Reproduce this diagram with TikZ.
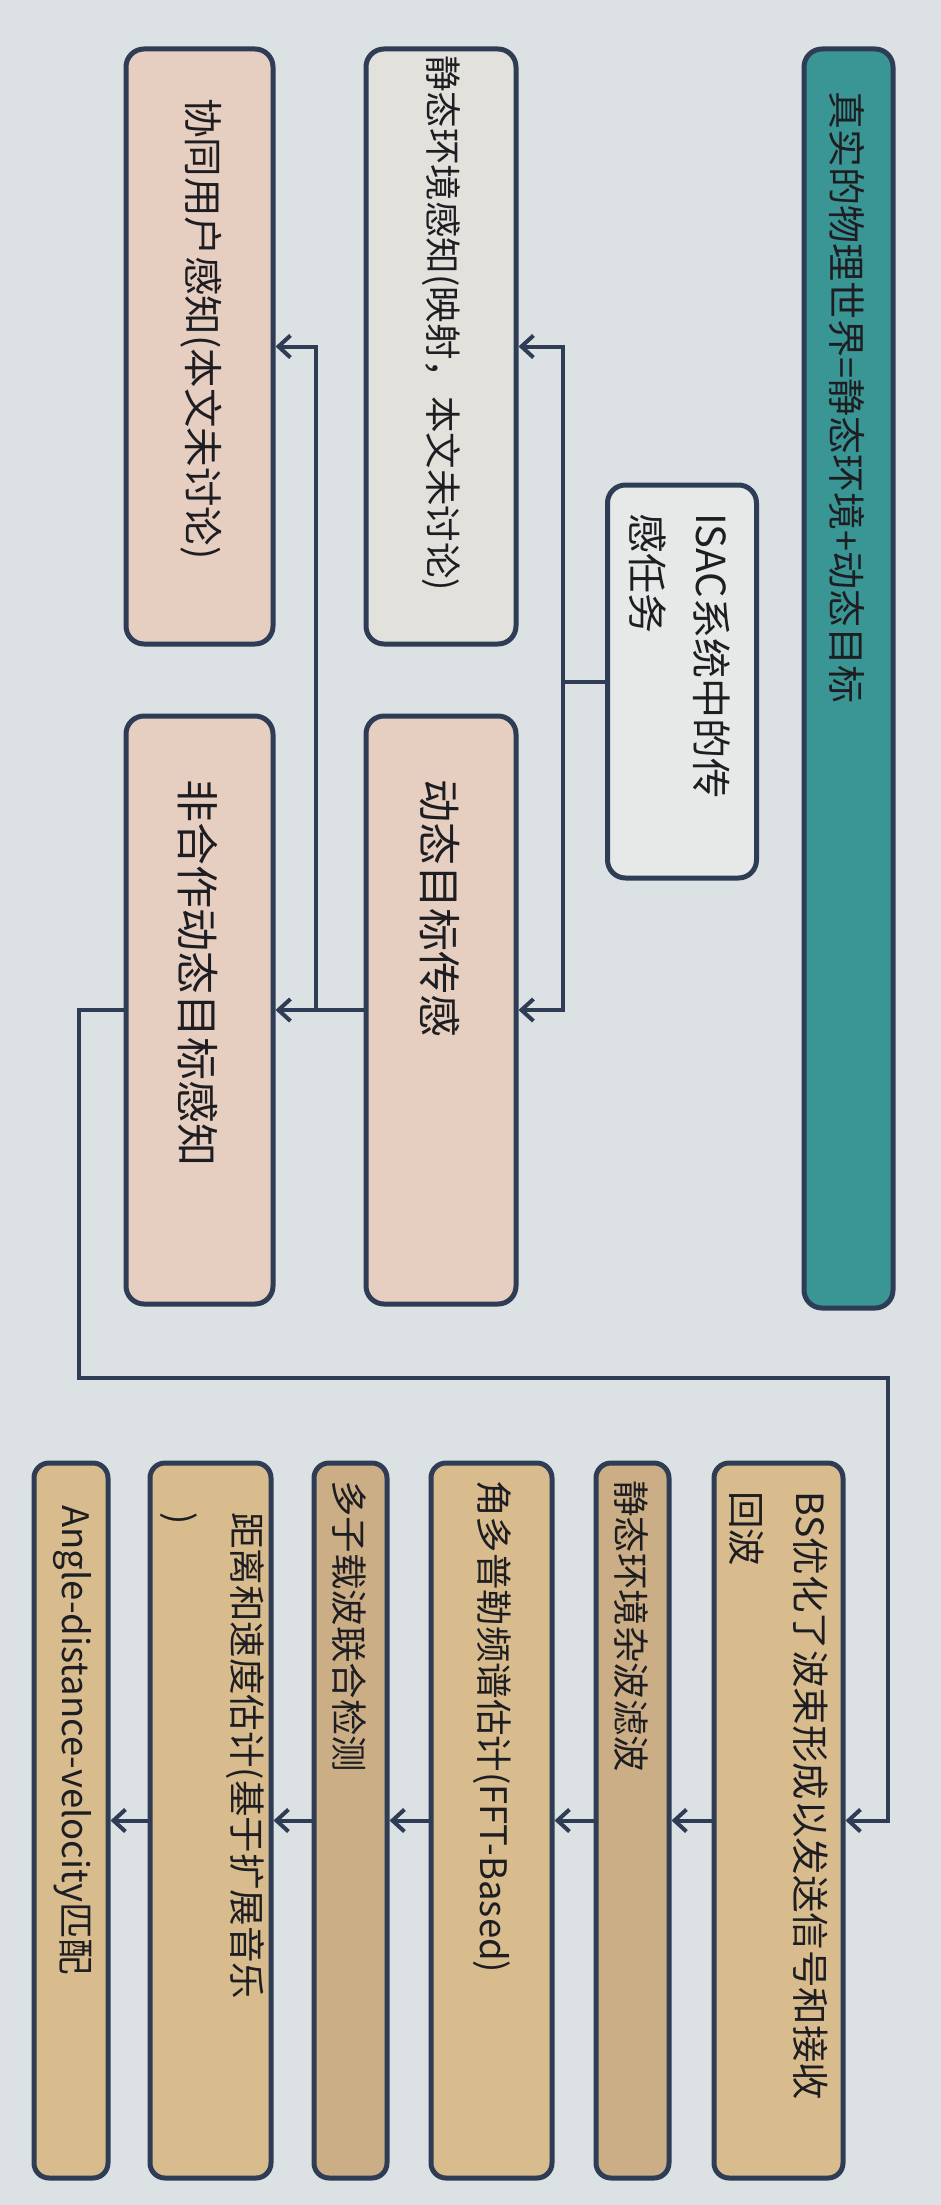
\documentclass[tikz,border=0pt]{standalone}
\usepackage{fontspec}
\setmainfont{Noto Sans CJK SC}
\usetikzlibrary{arrows.meta}
\definecolor{bg}{HTML}{DCE1E3}
\definecolor{border}{HTML}{2E3D55}
\definecolor{teal}{HTML}{3A9595}
\definecolor{isacfill}{HTML}{E7E9E9}
\definecolor{staticfill}{HTML}{E2E1DC}
\definecolor{pinkfill}{HTML}{E6CEC1}
\definecolor{tanfill}{HTML}{D8BC8E}
\definecolor{tandark}{HTML}{CBAE85}
\definecolor{txt}{HTML}{1E1E22}
\tikzset{
  box/.style={draw=border, line width=5pt, rounded corners=18pt, inner sep=0pt},
  lab/.style={rotate=-90, anchor=west, inner sep=0pt, align=left, text=txt},
  fs/.style={font=\fontsize{36.5}{66}\selectfont},
  fb/.style={font=\fontsize{43}{70}\selectfont},
  conn/.style={draw=border, line width=4pt},
  arr/.style={conn, -{Straight Barb[length=12pt,width=22pt,line width=4pt]}}
}
\begin{document}
\begin{tikzpicture}[x=1pt,y=-1pt]
\fill[bg] (0,0) rectangle (941,2205);
\useasboundingbox (0,0) rectangle (941,2205);

% top boxes
\node[box, fill=teal, minimum width=89pt, minimum height=1259pt] (teal) at (848.5,678.5) {};
\node[box, fill=isacfill, minimum width=149pt, minimum height=393pt] (isac) at (682,681.5) {};
\node[box, fill=staticfill, minimum width=150pt, minimum height=595pt] (static) at (441,346.5) {};
\node[box, fill=pinkfill, minimum width=147pt, minimum height=595pt] (coop) at (199.5,346.5) {};
\node[box, fill=pinkfill, minimum width=150pt, minimum height=588pt] (dyn) at (441,1010) {};
\node[box, fill=pinkfill, minimum width=147pt, minimum height=588pt] (noncoop) at (199.5,1010) {};

% bottom boxes
\node[box, fill=tanfill, rounded corners=15pt, minimum width=129pt, minimum height=715pt] (bs) at (778.5,1820.5) {};
\node[box, fill=tandark, rounded corners=15pt, minimum width=73pt, minimum height=715pt] (clutter) at (632.5,1820.5) {};
\node[box, fill=tanfill, rounded corners=15pt, minimum width=121pt, minimum height=715pt] (doppler) at (491.5,1820.5) {};
\node[box, fill=tandark, rounded corners=15pt, minimum width=73pt, minimum height=715pt] (multi) at (350.5,1820.5) {};
\node[box, fill=tanfill, rounded corners=15pt, minimum width=121pt, minimum height=715pt] (range) at (210.5,1820.5) {};
\node[box, fill=tanfill, rounded corners=15pt, minimum width=74pt, minimum height=715pt] (match) at (71,1820.5) {};

% labels
\node[lab, font=\fontsize{38}{66}\selectfont] (tealtxt) at (847,91) {真实的物理世界=静态环境+动态目标};
\node[lab, font=\fontsize{40}{64}\selectfont] (isactxt) at (680,513) {ISAC系统中的传\\感任务};
\node[lab, fs] (statictxt) at (441,55) {静态环境感知(映射，本文未讨论)};
\node[lab, font=\fontsize{39.5}{66}\selectfont] (cooptxt) at (201,98) {协同用户感知(本文未讨论)};
\node[lab, fb] (dyntxt) at (440,779) {动态目标传感};
\node[lab, fb] (noncooptxt) at (198,779) {非合作动态目标感知};
\node[lab, font=\fontsize{37.5}{64}\selectfont] (bstxt) at (779,1491) {BS优化了波束形成以发送信号和接收\\回波};
\node[lab, fs] (cluttertxt) at (631,1480) {静态环境杂波滤波};
\node[lab, fs] (dopplertxt) at (492,1480) {角多普勒频谱估计(FFT-Based)};
\node[lab, fs] (multitxt) at (349,1480) {多子载波联合检测};
\node[lab, fs] (rangetxt) at (212,1512) {距离和速度估计(基于扩展音乐\\)};
\node[lab, fs] (matchtxt) at (73,1505) {Angle-distance-velocity匹配};

% connectors
\draw[arr] (isac.west) -- ++(-42,0) |- (static.east);
\draw[arr] (isac.west) -- ++(-42,0) |- (dyn.east);
\draw[arr] (dyn.west) -- (noncoop.east);
\draw[arr] (dyn.west) -- ++(-48,0) |- (coop.east);
\draw[arr] (noncoop.west) -- ++(-45,0) |- (888,1378) |- (bs.east);
\draw[arr] (bs.west) -- (clutter.east);
\draw[arr] (clutter.west) -- (doppler.east);
\draw[arr] (doppler.west) -- (multi.east);
\draw[arr] (multi.west) -- (range.east);
\draw[arr] (range.west) -- (match.east);
\end{tikzpicture}
\end{document}
